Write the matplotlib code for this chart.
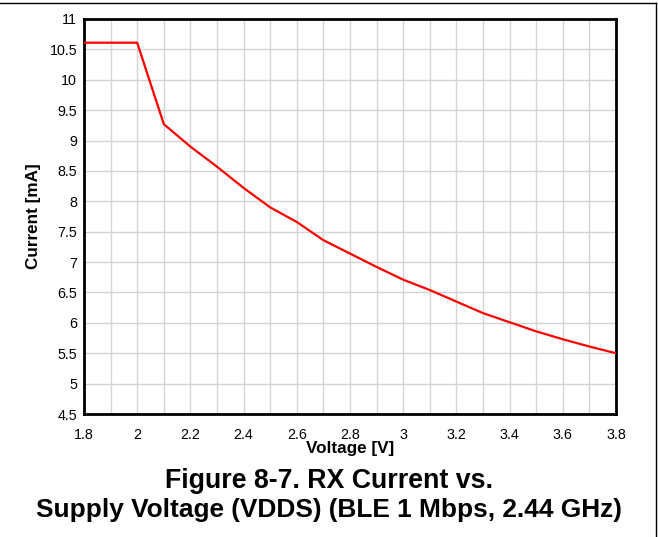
import matplotlib.pyplot as plt
import numpy as np
from matplotlib.ticker import MultipleLocator

plt.rcParams['font.family'] = ['Liberation Sans', 'DejaVu Sans']

voltage = [1.8, 2.0, 2.1, 2.2, 2.3, 2.4, 2.5, 2.6, 2.7, 2.8, 2.9, 3.0, 3.1, 3.2, 3.3, 3.4, 3.5, 3.6, 3.7, 3.8]
current = [10.61, 10.61, 9.27, 8.90, 8.57, 8.22, 7.90, 7.66, 7.36, 7.14, 6.92, 6.71, 6.54, 6.35, 6.16, 6.01, 5.86, 5.73, 5.61, 5.50]
x_ticks = [1.8, 2.0, 2.2, 2.4, 2.6, 2.8, 3.0, 3.2, 3.4, 3.6, 3.8]
x_labels = ['1.8', '2', '2.2', '2.4', '2.6', '2.8', '3', '3.2', '3.4', '3.6', '3.8']
y_ticks = [4.5, 5, 5.5, 6, 6.5, 7, 7.5, 8, 8.5, 9, 9.5, 10, 10.5, 11]
y_labels = ['4.5', '5', '5.5', '6', '6.5', '7', '7.5', '8', '8.5', '9', '9.5', '10', '10.5', '11']

fig = plt.figure(figsize=(6.58, 5.37), dpi=100)
ax = fig.add_axes([84/658, 1-414/537, (616-84)/658, (414-19)/537])

ax.plot(voltage, current, color='#ff0000', lw=1.6, zorder=3)

ax.set_xlim(1.8, 3.8)
ax.set_ylim(4.5, 11)
ax.set_xticks(x_ticks, x_labels)
ax.set_yticks(y_ticks, y_labels)
ax.xaxis.set_minor_locator(MultipleLocator(0.1))
ax.grid(True, which='both', axis='x', color='#d4d4d4', lw=1)
ax.grid(True, which='major', axis='y', color='#d4d4d4', lw=1)
ax.tick_params(which='both', length=0, labelsize=10.3)
ax.tick_params(axis='x', pad=10)
ax.tick_params(axis='y', pad=5)
for s in ax.spines.values():
    s.set_linewidth(2)
    s.set_color('black')

ax.set_xlabel('Voltage [V]', fontsize=12.3, fontweight='bold', labelpad=-1)
ax.set_ylabel('Current [mA]', fontsize=12.3, fontweight='bold', labelpad=6)

fig.text(0.5, 1-488/537, 'Figure 8-7. RX Current vs.', ha='center', va='baseline',
         fontsize=19.3, fontweight='bold')
fig.text(0.5, 1-517/537, 'Supply Voltage (VDDS) (BLE 1 Mbps, 2.44 GHz)', ha='center', va='baseline',
         fontsize=18.9, fontweight='bold')

# partial frame around the figure
fig.add_artist(plt.Line2D([0, 656/658], [1-2.5/537, 1-2.5/537], color='black', lw=1, transform=fig.transFigure))
fig.add_artist(plt.Line2D([656/658, 656/658], [0, 1-2.5/537], color='black', lw=1, transform=fig.transFigure))

fig.savefig('out.png', dpi=100)
